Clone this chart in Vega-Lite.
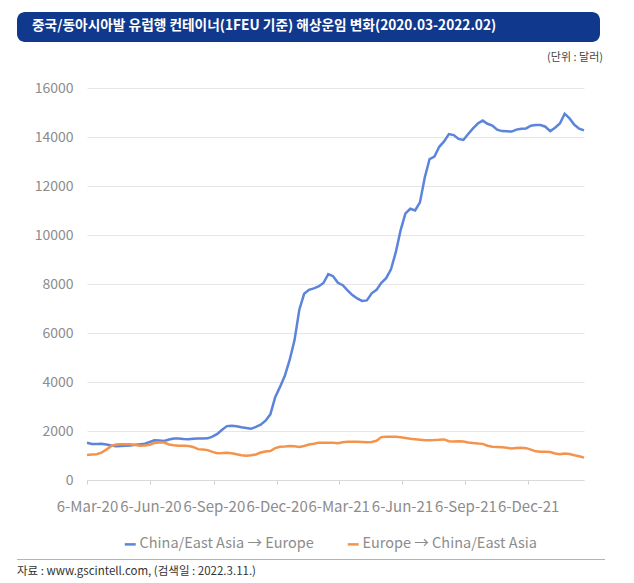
{
  "$schema": "https://vega.github.io/schema/vega-lite/v6.json",
  "background": "white",
  "padding": {"left": 17, "top": 12, "right": 5, "bottom": 5},
  "config": {"font": "Noto Sans CJK KR", "view": {"stroke": null}},
  "spacing": 10,
  "vconcat": [
    {
      "width": 583,
      "height": 30,
      "view": {"fill": "#10388c", "stroke": null, "cornerRadius": 8},
      "title": {
        "text": "중국/동아시아발 유럽행 컨테이너(1FEU 기준) 해상운임 변화(2020.03-2022.02)",
        "orient": "top", "anchor": "start", "frame": "group",
        "offset": -21, "dx": 15,
        "color": "white", "fontSize": 13.7, "fontWeight": "bold"
      },
      "data": {"values": [{}]},
      "mark": {"type": "text"},
      "encoding": {"text": {"value": ""}}
    },
    {
      "width": 568,
      "height": 392,
      "title": {
        "text": "(단위 : 달러)",
        "anchor": "end", "frame": "group", "offset": 18, "dx": 18,
        "color": "#444444", "fontSize": 11, "fontWeight": "normal"
      },
      "data": {
        "values": [
          {"date": "2020-03-06", "asia_eu": 1520, "eu_asia": 1020},
          {"date": "2020-03-13", "asia_eu": 1470, "eu_asia": 1040},
          {"date": "2020-03-20", "asia_eu": 1470, "eu_asia": 1050},
          {"date": "2020-03-27", "asia_eu": 1480, "eu_asia": 1120},
          {"date": "2020-04-03", "asia_eu": 1450, "eu_asia": 1240},
          {"date": "2020-04-10", "asia_eu": 1410, "eu_asia": 1380},
          {"date": "2020-04-17", "asia_eu": 1380, "eu_asia": 1450},
          {"date": "2020-04-24", "asia_eu": 1385, "eu_asia": 1457},
          {"date": "2020-05-01", "asia_eu": 1395, "eu_asia": 1457},
          {"date": "2020-05-08", "asia_eu": 1410, "eu_asia": 1457},
          {"date": "2020-05-15", "asia_eu": 1435, "eu_asia": 1430},
          {"date": "2020-05-22", "asia_eu": 1455, "eu_asia": 1400},
          {"date": "2020-05-29", "asia_eu": 1485, "eu_asia": 1405},
          {"date": "2020-06-05", "asia_eu": 1550, "eu_asia": 1440},
          {"date": "2020-06-12", "asia_eu": 1620, "eu_asia": 1510},
          {"date": "2020-06-19", "asia_eu": 1610, "eu_asia": 1530},
          {"date": "2020-06-26", "asia_eu": 1595, "eu_asia": 1530},
          {"date": "2020-07-03", "asia_eu": 1650, "eu_asia": 1450},
          {"date": "2020-07-10", "asia_eu": 1690, "eu_asia": 1420},
          {"date": "2020-07-17", "asia_eu": 1690, "eu_asia": 1400},
          {"date": "2020-07-24", "asia_eu": 1670, "eu_asia": 1400},
          {"date": "2020-07-31", "asia_eu": 1665, "eu_asia": 1390},
          {"date": "2020-08-07", "asia_eu": 1680, "eu_asia": 1350},
          {"date": "2020-08-14", "asia_eu": 1690, "eu_asia": 1260},
          {"date": "2020-08-21", "asia_eu": 1695, "eu_asia": 1245},
          {"date": "2020-08-28", "asia_eu": 1700, "eu_asia": 1220},
          {"date": "2020-09-04", "asia_eu": 1770, "eu_asia": 1150},
          {"date": "2020-09-11", "asia_eu": 1880, "eu_asia": 1090},
          {"date": "2020-09-18", "asia_eu": 2050, "eu_asia": 1100},
          {"date": "2020-09-25", "asia_eu": 2200, "eu_asia": 1115},
          {"date": "2020-10-02", "asia_eu": 2215, "eu_asia": 1090},
          {"date": "2020-10-09", "asia_eu": 2190, "eu_asia": 1050},
          {"date": "2020-10-16", "asia_eu": 2150, "eu_asia": 1010},
          {"date": "2020-10-23", "asia_eu": 2120, "eu_asia": 990},
          {"date": "2020-10-30", "asia_eu": 2090, "eu_asia": 1010},
          {"date": "2020-11-06", "asia_eu": 2170, "eu_asia": 1040},
          {"date": "2020-11-13", "asia_eu": 2260, "eu_asia": 1120},
          {"date": "2020-11-20", "asia_eu": 2420, "eu_asia": 1160},
          {"date": "2020-11-27", "asia_eu": 2680, "eu_asia": 1185},
          {"date": "2020-12-04", "asia_eu": 3380, "eu_asia": 1300},
          {"date": "2020-12-11", "asia_eu": 3800, "eu_asia": 1360},
          {"date": "2020-12-18", "asia_eu": 4250, "eu_asia": 1370},
          {"date": "2020-12-25", "asia_eu": 4900, "eu_asia": 1390},
          {"date": "2021-01-01", "asia_eu": 5700, "eu_asia": 1380},
          {"date": "2021-01-08", "asia_eu": 6950, "eu_asia": 1350},
          {"date": "2021-01-15", "asia_eu": 7600, "eu_asia": 1390},
          {"date": "2021-01-22", "asia_eu": 7760, "eu_asia": 1450},
          {"date": "2021-01-29", "asia_eu": 7820, "eu_asia": 1480},
          {"date": "2021-02-05", "asia_eu": 7900, "eu_asia": 1520},
          {"date": "2021-02-12", "asia_eu": 8040, "eu_asia": 1520},
          {"date": "2021-02-19", "asia_eu": 8400, "eu_asia": 1520},
          {"date": "2021-02-26", "asia_eu": 8320, "eu_asia": 1520},
          {"date": "2021-03-05", "asia_eu": 8050, "eu_asia": 1500},
          {"date": "2021-03-12", "asia_eu": 7950, "eu_asia": 1540},
          {"date": "2021-03-19", "asia_eu": 7740, "eu_asia": 1565},
          {"date": "2021-03-26", "asia_eu": 7550, "eu_asia": 1565},
          {"date": "2021-04-02", "asia_eu": 7410, "eu_asia": 1565},
          {"date": "2021-04-09", "asia_eu": 7310, "eu_asia": 1555},
          {"date": "2021-04-16", "asia_eu": 7330, "eu_asia": 1540},
          {"date": "2021-04-23", "asia_eu": 7620, "eu_asia": 1555},
          {"date": "2021-04-30", "asia_eu": 7760, "eu_asia": 1600},
          {"date": "2021-05-07", "asia_eu": 8050, "eu_asia": 1750},
          {"date": "2021-05-14", "asia_eu": 8240, "eu_asia": 1765},
          {"date": "2021-05-21", "asia_eu": 8600, "eu_asia": 1770},
          {"date": "2021-05-28", "asia_eu": 9300, "eu_asia": 1770},
          {"date": "2021-06-04", "asia_eu": 10200, "eu_asia": 1745},
          {"date": "2021-06-11", "asia_eu": 10880, "eu_asia": 1715},
          {"date": "2021-06-18", "asia_eu": 11070, "eu_asia": 1680},
          {"date": "2021-06-25", "asia_eu": 11000, "eu_asia": 1660},
          {"date": "2021-07-02", "asia_eu": 11330, "eu_asia": 1640},
          {"date": "2021-07-09", "asia_eu": 12350, "eu_asia": 1620},
          {"date": "2021-07-16", "asia_eu": 13100, "eu_asia": 1625},
          {"date": "2021-07-23", "asia_eu": 13200, "eu_asia": 1630},
          {"date": "2021-07-30", "asia_eu": 13600, "eu_asia": 1640},
          {"date": "2021-08-06", "asia_eu": 13820, "eu_asia": 1655},
          {"date": "2021-08-13", "asia_eu": 14120, "eu_asia": 1580},
          {"date": "2021-08-20", "asia_eu": 14080, "eu_asia": 1570},
          {"date": "2021-08-27", "asia_eu": 13920, "eu_asia": 1585},
          {"date": "2021-09-03", "asia_eu": 13880, "eu_asia": 1570},
          {"date": "2021-09-10", "asia_eu": 14120, "eu_asia": 1535},
          {"date": "2021-09-17", "asia_eu": 14350, "eu_asia": 1510},
          {"date": "2021-09-24", "asia_eu": 14550, "eu_asia": 1490},
          {"date": "2021-10-01", "asia_eu": 14670, "eu_asia": 1475},
          {"date": "2021-10-08", "asia_eu": 14540, "eu_asia": 1400},
          {"date": "2021-10-15", "asia_eu": 14470, "eu_asia": 1360},
          {"date": "2021-10-22", "asia_eu": 14300, "eu_asia": 1350},
          {"date": "2021-10-29", "asia_eu": 14240, "eu_asia": 1335},
          {"date": "2021-11-05", "asia_eu": 14230, "eu_asia": 1315},
          {"date": "2021-11-12", "asia_eu": 14220, "eu_asia": 1290},
          {"date": "2021-11-19", "asia_eu": 14300, "eu_asia": 1310},
          {"date": "2021-11-26", "asia_eu": 14340, "eu_asia": 1320},
          {"date": "2021-12-03", "asia_eu": 14350, "eu_asia": 1300},
          {"date": "2021-12-10", "asia_eu": 14460, "eu_asia": 1240},
          {"date": "2021-12-17", "asia_eu": 14490, "eu_asia": 1170},
          {"date": "2021-12-24", "asia_eu": 14490, "eu_asia": 1150},
          {"date": "2021-12-31", "asia_eu": 14420, "eu_asia": 1150},
          {"date": "2022-01-07", "asia_eu": 14240, "eu_asia": 1143},
          {"date": "2022-01-14", "asia_eu": 14380, "eu_asia": 1080},
          {"date": "2022-01-21", "asia_eu": 14550, "eu_asia": 1050},
          {"date": "2022-01-28", "asia_eu": 14950, "eu_asia": 1085},
          {"date": "2022-02-04", "asia_eu": 14760, "eu_asia": 1060},
          {"date": "2022-02-11", "asia_eu": 14500, "eu_asia": 1010},
          {"date": "2022-02-18", "asia_eu": 14340, "eu_asia": 970},
          {"date": "2022-02-25", "asia_eu": 14270, "eu_asia": 915}
        ]
      },
      "transform": [{"fold": ["asia_eu", "eu_asia"], "as": ["route", "rate"]}],
      "mark": {"type": "line", "strokeWidth": 2.5},
      "encoding": {
        "x": {
          "field": "date",
          "type": "temporal",
          "scale": {
            "type": "utc",
            "range": [70, 567],
            "domain": [
              {"year": 2020, "month": 3, "date": 6, "utc": true},
              {"year": 2022, "month": 2, "date": 25, "utc": true}
            ]
          },
          "axis": {
            "title": null,
            "values": [
              {"year": 2020, "month": 3, "date": 6, "utc": true},
              {"year": 2020, "month": 6, "date": 6, "utc": true},
              {"year": 2020, "month": 9, "date": 6, "utc": true},
              {"year": 2020, "month": 12, "date": 6, "utc": true},
              {"year": 2021, "month": 3, "date": 6, "utc": true},
              {"year": 2021, "month": 6, "date": 6, "utc": true},
              {"year": 2021, "month": 9, "date": 6, "utc": true},
              {"year": 2021, "month": 12, "date": 6, "utc": true}
            ],
            "labelExpr": "utcFormat(datum.value, '%-d-%b-%y')",
            "grid": false,
            "labelOverlap": false,
            "labelFlush": false,
            "labelBound": false,
            "labelFontSize": 15,
            "labelColor": "#8c8c8c",
            "labelPadding": 15,
            "tickSize": 4,
            "tickColor": "#d0d0d0",
            "domainColor": "#d9d9d9",
            "minExtent": 63
          }
        },
        "y": {
          "field": "rate",
          "type": "quantitative",
          "scale": {"domain": [0, 16000]},
          "axis": {
            "title": null,
            "offset": -70,
            "values": [0, 2000, 4000, 6000, 8000, 10000, 12000, 14000, 16000],
            "format": "d",
            "domain": false,
            "ticks": false,
            "grid": true,
            "gridColor": "#e6e6e6",
            "labelFontSize": 14,
            "labelColor": "#8c8c8c",
            "labelPadding": 14
          }
        },
        "color": {
          "field": "route",
          "type": "nominal",
          "scale": {"domain": ["asia_eu", "eu_asia"], "range": ["#5b84da", "#f4944c"]},
          "legend": {
            "title": null,
            "orient": "none",
            "legendX": 106,
            "legendY": 525,
            "direction": "horizontal",
            "symbolType": "stroke",
            "symbolSize": 120,
            "symbolStrokeWidth": 2.5,
            "labelFontSize": 14.5,
            "labelColor": "#8c8c8c",
            "labelOffset": 2,
            "labelLimit": 400,
            "columnPadding": 28,
            "labelExpr": "datum.label == 'asia_eu' ? 'China/East Asia → Europe' : 'Europe → China/East Asia'"
          }
        }
      }
    },
    {
      "width": 588,
      "height": 1,
      "view": {"fill": "#b5b5b5", "stroke": null},
      "title": {
        "text": "자료 : www.gscintell.com, (검색일 : 2022.3.11.)",
        "orient": "bottom", "anchor": "start", "frame": "group", "offset": 1,
        "fontSize": 11.5, "fontWeight": "normal", "color": "#333333"
      },
      "data": {"values": [{}]},
      "mark": {"type": "text"},
      "encoding": {"text": {"value": ""}}
    }
  ]
}
